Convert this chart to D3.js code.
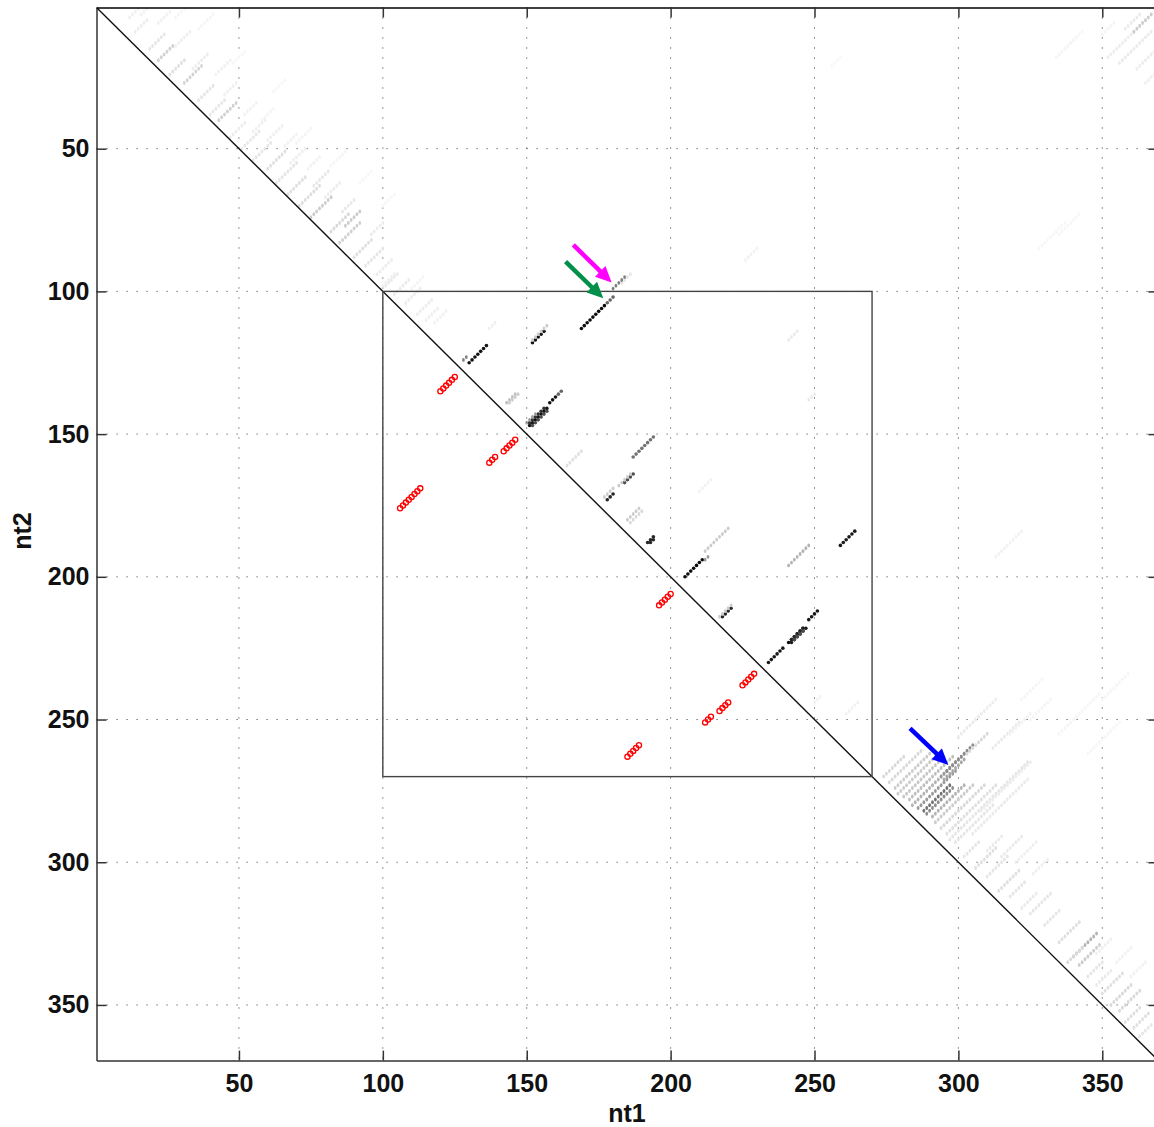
<!DOCTYPE html>
<html>
<head>
<meta charset="utf-8">
<script src="https://cdn.jsdelivr.net/npm/d3@7"></script>
<style>
  body { margin: 0; background: #fff; }
  svg { display: block; }
  text { font-family: "Liberation Sans", Arial, Helvetica, sans-serif; font-weight: bold; }
</style>
</head>
<body>
<svg id="chart" width="1154" height="1127"></svg>
<script>
// sequence length and ticks
const seqLength = 369;
const tickValues = [50, 100, 150, 200, 250, 300, 350];
const boxRange = [100, 270];

// helices: [nt1 start, nt2 start, length, probability]; pairs run (i+k, j-k)
const strongHelices = [
  [169, 113, 9, 0.95], [178, 104, 3, 0.6],
  [180, 99, 5, 0.5],
  [152, 118, 5, 0.92], [152, 117, 6, 0.2],
  [130, 125, 7, 0.92], [128, 124, 2, 0.5],
  [151, 147, 7, 0.92], [151, 146, 6, 0.8], [152, 147, 6, 0.7], [150, 146, 4, 0.4],
  [158, 139, 3, 0.92], [161, 136, 2, 0.6],
  [143, 139, 4, 0.25], [144, 139, 4, 0.2],
  [178, 173, 3, 0.85], [177, 172, 4, 0.2],
  [184, 167, 4, 0.7], [182, 168, 5, 0.2],
  [187, 158, 8, 0.55],
  [192, 188, 3, 0.85], [193, 188, 2, 0.85],
  [205, 200, 7, 0.95], [212, 194, 2, 0.4],
  [218, 214, 4, 0.85], [217, 214, 5, 0.2],
  [234, 230, 6, 0.9],
  [241, 223, 6, 0.95], [242, 223, 6, 0.9], [242, 222, 5, 0.85], [243, 222, 4, 0.7],
  [248, 215, 4, 0.9],
  [259, 189, 6, 0.9],
  [241, 196, 8, 0.3],
  [212, 191, 9, 0.2],
  [185, 180, 5, 0.2], [186, 181, 5, 0.15]
];

const faintHelices = [
  // band along the 5' half
  [12, 4, 4, 0.06], [14, 9, 5, 0.07], [22, 6, 5, 0.05], [19, 15, 6, 0.1], [28, 14, 6, 0.06],
  [22, 19, 6, 0.18], [36, 8, 6, 0.04], [26, 24, 6, 0.12], [34, 22, 6, 0.07], [31, 27, 7, 0.17],
  [42, 24, 6, 0.05], [36, 33, 6, 0.1], [45, 31, 5, 0.06], [40, 38, 6, 0.09], [43, 40, 7, 0.18],
  [52, 38, 5, 0.05], [47, 46, 6, 0.07], [55, 44, 5, 0.06], [51, 50, 7, 0.09], [60, 47, 6, 0.06],
  [55, 54, 7, 0.1], [66, 49, 5, 0.05], [60, 57, 7, 0.12], [68, 55, 6, 0.06], [63, 62, 8, 0.1],
  [74, 57, 5, 0.05], [67, 66, 7, 0.12], [76, 63, 6, 0.09], [71, 70, 8, 0.13], [80, 67, 6, 0.07],
  [75, 74, 8, 0.2], [86, 72, 5, 0.09], [82, 79, 7, 0.15], [87, 77, 6, 0.2], [85, 83, 8, 0.18],
  [96, 80, 5, 0.07], [90, 88, 7, 0.12], [94, 91, 7, 0.1], [98, 94, 6, 0.07], [100, 98, 5, 0.06],
  [58, 40, 5, 0.04], [70, 48, 6, 0.04], [82, 56, 6, 0.04], [92, 62, 5, 0.03], [100, 70, 5, 0.03],
  [62, 30, 5, 0.03], [48, 20, 5, 0.03], [16, 3, 3, 0.05], [28, 4, 4, 0.04],
  [101, 98, 5, 0.08], [104, 101, 6, 0.08], [108, 104, 6, 0.07], [112, 108, 6, 0.07],
  [115, 110, 5, 0.06], [118, 111, 5, 0.05], [110, 99, 5, 0.04], [137, 113, 3, 0.06],
  // inside the box
  [164, 161, 6, 0.12], [183, 97, 4, 0.1], [226, 89, 5, 0.05], [241, 117, 4, 0.08],
  [248, 138, 3, 0.08], [210, 170, 5, 0.05], [261, 248, 5, 0.05], [250, 244, 3, 0.05],
  // long range, 5' end with 3' end
  [352, 18, 10, 0.07], [356, 20, 12, 0.08], [361, 9, 7, 0.2], [362, 22, 7, 0.07],
  [358, 8, 6, 0.08], [365, 27, 4, 0.06], [350, 10, 5, 0.04], [334, 18, 8, 0.04],
  [338, 14, 6, 0.035], [328, 85, 10, 0.03], [335, 80, 8, 0.03], [256, 21, 4, 0.03],
  // band along the 3' half, cluster near the blue arrow
  [274, 270, 8, 0.15], [276, 272, 12, 0.15], [278, 274, 14, 0.2], [279, 276, 16, 0.2],
  [281, 277, 14, 0.22], [283, 278, 16, 0.25], [284, 280, 14, 0.3], [286, 281, 14, 0.4],
  [288, 282, 10, 0.55], [289, 283, 10, 0.45], [291, 284, 12, 0.3], [294, 270, 10, 0.4],
  [296, 268, 10, 0.45], [295, 271, 8, 0.35], [292, 286, 14, 0.2], [294, 288, 16, 0.15],
  [296, 290, 18, 0.12], [297, 292, 28, 0.1], [299, 293, 14, 0.1],
  [303, 262, 8, 0.15], [300, 256, 8, 0.08], [306, 250, 8, 0.07], [305, 290, 20, 0.08],
  [312, 260, 10, 0.08], [308, 282, 18, 0.07], [318, 255, 8, 0.05], [325, 250, 8, 0.04],
  [335, 255, 10, 0.04], [340, 250, 10, 0.035], [345, 262, 12, 0.035],
  [302, 298, 6, 0.1], [306, 302, 8, 0.12], [310, 305, 8, 0.1], [314, 310, 8, 0.12],
  [318, 312, 6, 0.1], [322, 316, 6, 0.08], [315, 298, 8, 0.08], [320, 300, 8, 0.06],
  [326, 304, 6, 0.06], [310, 296, 6, 0.08], [325, 318, 8, 0.1], [330, 322, 6, 0.1],
  [335, 328, 8, 0.12], [340, 333, 9, 0.3], [342, 336, 8, 0.2], [338, 335, 6, 0.15],
  [345, 340, 6, 0.1], [348, 343, 6, 0.08], [350, 346, 8, 0.12], [353, 350, 8, 0.15],
  [356, 352, 8, 0.15], [358, 356, 6, 0.12], [361, 358, 6, 0.12], [363, 361, 5, 0.1],
  [348, 332, 6, 0.06], [355, 335, 6, 0.05], [360, 340, 6, 0.05],
  [313, 193, 10, 0.05], [322, 243, 8, 0.04], [350, 243, 10, 0.035]
];

// reference structure helices (lower triangle): [nt1 start, nt2 start, length]
const refHelices = [
  [120, 135, 6], [142, 156, 5], [137, 160, 3], [106, 176, 8],
  [196, 210, 5], [225, 238, 5], [217, 247, 4], [212, 251, 3], [185, 263, 5]
];

// annotation arrows (data coordinates)
const arrowTails = [[166.2, 83.7], [163.5, 89.6], [283.2, 253.1]];
const arrowTips = [[179.5, 96.9], [176.6, 102.4], [296.5, 265.9]];
const arrowColors = ["#ff00ff", "#00904a", "#0000ff"];

const svg = d3.select("#chart");
const x = d3.scaleLinear().domain([0.5, seqLength + 0.5]).range([96.5, 1158.4]);
const y = d3.scaleLinear().domain([0.5, seqLength + 0.5]).range([7.4, 1060.6]);
const [x0, x1] = x.range();
const [y0, y1] = y.range();

// slight blur for the dots, like the resampled original
svg.append("defs").append("filter").attr("id", "soft")
  .attr("x", "-50%").attr("y", "-50%").attr("width", "200%").attr("height", "200%")
  .append("feGaussianBlur").attr("stdDeviation", 0.6);

// dotted grid
const grid = svg.append("g").attr("stroke", "#555").attr("stroke-width", 1).attr("stroke-dasharray", "1.2,8.8");
tickValues.forEach(t => {
  grid.append("line").attr("x1", x(t)).attr("x2", x(t)).attr("y1", y0).attr("y2", y1);
  grid.append("line").attr("y1", y(t)).attr("y2", y(t)).attr("x1", x0).attr("x2", x1);
});

function expand(helices) {
  let pts = [];
  helices.forEach(h => {
    for (let k = 0; k < h[2]; k++) pts.push({ i: h[0] + k, j: h[1] - k, p: h[3] });
  });
  return pts;
}

function grey(p) {
  let c = Math.round(255 * (1 - p));
  return `rgb(${c},${c},${c})`;
}

const faint = svg.append("g").attr("filter", "url(#soft)");
faint.selectAll("ellipse").data(expand(faintHelices)).join("ellipse")
  .attr("cx", d => x(d.i)).attr("cy", d => y(d.j))
  .attr("rx", 1.4).attr("ry", 2.0)
  .attr("fill", d => grey(d.p));
const strong = svg.append("g");
strong.selectAll("ellipse").data(expand(strongHelices)).join("ellipse")
  .attr("cx", d => x(d.i)).attr("cy", d => y(d.j))
  .attr("rx", d => d.p > 0.5 ? 1.8 : 1.4).attr("ry", d => d.p > 0.5 ? 1.8 : 1.9)
  .attr("fill", d => grey(d.p));

// reference structure, red open circles
svg.append("g").selectAll("circle").data(expand(refHelices.map(h => [h[0], h[1], h[2], 1]))).join("circle")
  .attr("cx", d => x(d.i)).attr("cy", d => y(d.j))
  .attr("r", 2.6).attr("fill", "none").attr("stroke", "#ff0000").attr("stroke-width", 1.3);

// diagonal
svg.append("line")
  .attr("x1", x(0.5)).attr("y1", y(0.5)).attr("x2", x(seqLength + 0.5)).attr("y2", y(seqLength + 0.5))
  .attr("stroke", "#111").attr("stroke-width", 1.4);

// zoom box
svg.append("rect")
  .attr("x", x(boxRange[0])).attr("y", y(boxRange[0]))
  .attr("width", x(boxRange[1]) - x(boxRange[0])).attr("height", y(boxRange[1]) - y(boxRange[0]))
  .attr("fill", "none").attr("stroke", "#444").attr("stroke-width", 1.4);

// arrows
arrowTails.forEach((t, n) => {
  let ax = x(t[0]), ay = y(t[1]);
  let bx = x(arrowTips[n][0]), by = y(arrowTips[n][1]);
  let ang = Math.atan2(by - ay, bx - ax);
  let hl = 16, hw = 7.5;
  let cx = bx - hl * Math.cos(ang), cy = by - hl * Math.sin(ang);
  svg.append("line").attr("x1", ax).attr("y1", ay).attr("x2", cx + 2 * Math.cos(ang)).attr("y2", cy + 2 * Math.sin(ang))
    .attr("stroke", arrowColors[n]).attr("stroke-width", 4.5);
  let px = -Math.sin(ang), py = Math.cos(ang);
  svg.append("polygon")
    .attr("points", [[bx, by], [cx + hw * px, cy + hw * py], [cx - hw * px, cy - hw * py]].map(p => p.join(",")).join(" "))
    .attr("fill", arrowColors[n]);
});

// axes with inward ticks
const fontSize = "25px";
const bottomAxis = svg.append("g").attr("transform", `translate(0,${y1})`)
  .call(d3.axisBottom(x).tickValues(tickValues).tickSizeInner(-10).tickSizeOuter(0).tickPadding(14));
const leftAxis = svg.append("g").attr("transform", `translate(${x0},0)`)
  .call(d3.axisLeft(y).tickValues(tickValues).tickSizeInner(-10).tickSizeOuter(0).tickPadding(7));
const topAxis = svg.append("g").attr("transform", `translate(0,${y0})`)
  .call(d3.axisTop(x).tickValues(tickValues).tickSizeInner(-10).tickSizeOuter(0).tickFormat(""));
const rightAxis = svg.append("g").attr("transform", `translate(${x1},0)`)
  .call(d3.axisRight(y).tickValues(tickValues).tickSizeInner(-10).tickSizeOuter(0).tickFormat(""));
[bottomAxis, leftAxis, topAxis, rightAxis].forEach(a => {
  a.select(".domain").attr("stroke", "#333").attr("stroke-width", 1.5);
  a.selectAll(".tick line").attr("stroke", "#333").attr("stroke-width", 1.5);
  a.selectAll("text").style("font-size", fontSize).attr("fill", "#111")
    .style("font-family", '"Liberation Sans", Arial, sans-serif').style("font-weight", "bold");
});
topAxis.select(".domain").attr("stroke", "#000");

// axis titles
svg.append("text").attr("x", 627).attr("y", 1122).attr("text-anchor", "middle")
  .style("font-size", fontSize).attr("fill", "#111").text("nt1");
svg.append("text").attr("transform", "translate(31,531) rotate(-90)").attr("text-anchor", "middle")
  .style("font-size", fontSize).attr("fill", "#111").text("nt2");
</script>
</body>
</html>
